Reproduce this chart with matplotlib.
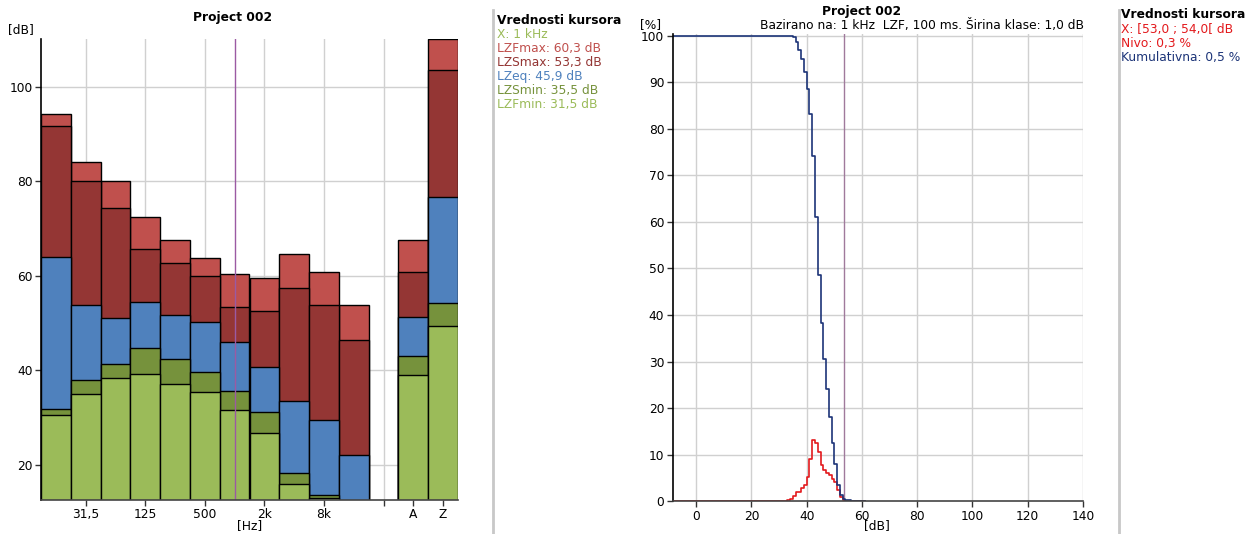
import numpy as np
import matplotlib.pyplot as plt
from matplotlib.lines import Line2D

W, H = 1245, 534

# octave bands + broadband A/Z (blank entry is the gap before A)
bands = ['16', '31,5', '63', '125', '250', '500', '1k', '2k', '4k', '8k', '16k', '', 'A', 'Z']
labelled = ['31,5', '125', '500', '2k', '8k', '', 'A', 'Z']
grid_bands = ['31,5', '125', '500', '2k', '8k', '']
cursor_band = '1k'

nan = np.nan
lzfmax = [94.2, 84.1, 80.1, 72.5, 67.6, 63.7, 60.3, 59.4, 64.6, 60.8, 53.7, nan, 67.5, 110.0]
lzsmax = [91.7, 80.0, 74.3, 65.6, 62.7, 59.9, 53.3, 52.5, 57.3, 53.7, 46.4, nan, 60.8, 103.6]
lzeq = [64.0, 53.8, 51.0, 54.4, 51.7, 50.1, 45.9, 40.7, 33.5, 29.5, 22.0, nan, 51.2, 76.7]
lzsmin = [31.8, 37.9, 41.2, 44.7, 42.4, 39.7, 35.5, 31.1, 18.2, 13.6, nan, nan, 42.9, 54.2]
lzfmin = [30.4, 35.0, 38.4, 39.2, 37.1, 35.4, 31.5, 26.7, 15.8, 13.0, nan, nan, 39.0, 49.3]

# statistics at 1 kHz, 1 dB classes
class_db = np.arange(30, 61)
nivo = [0.0, 0.05, 0.1, 0.3, 0.5, 1.1, 1.9, 2.0, 2.8, 3.5, 5.3, 9.0, 13.1, 12.6, 10.5, 7.7,
        6.7, 6.1, 5.6, 4.7, 4.1, 2.4, 1.0, 0.3, 0.15, 0.1, 0.05, 0.02, 0.0, 0.0, 0.0]
kumul = [100.0, 100.0, 100.0, 99.95, 99.85, 99.7, 98.7, 97.0, 94.9, 92.1, 88.6, 83.2, 74.1,
         61.1, 48.6, 38.2, 30.6, 24.1, 18.2, 12.6, 8.0, 3.6, 1.35, 0.5, 0.3, 0.2, 0.1, 0.05,
         0.02, 0.0, 0.0]
cursor_db = 53.5

c_fmax, c_smax, c_eq, c_smin, c_fmin = '#C0504D', '#943634', '#4F81BD', '#76923C', '#9BBB59'
c_grid = '#d0d0d0'
c_cursor = '#9b5aa3'
c_cursor2 = '#a07a9c'
c_red = '#e3191c'
c_blue = '#1c3478'
fs = 8.8

plt.rcParams['font.family'] = ['DejaVu Sans']


def fx(px):
    return px / W


def fy(py):
    return 1 - py / H


fig = plt.figure(figsize=(W / 100, H / 100), dpi=100)

# ---------------- left: spectrum
ax1 = fig.add_axes([fx(41), 34 / H, 417 / W, 461 / H])
x = np.arange(len(bands))
for vals, col in [(lzfmax, c_fmax), (lzsmax, c_smax), (lzeq, c_eq), (lzsmin, c_smin), (lzfmin, c_fmin)]:
    v = np.array(vals)
    ok = ~np.isnan(v)
    ax1.bar(x[ok], v[ok], width=1.0, color=col, edgecolor='black', linewidth=1.0, zorder=3)
ax1.set_xlim(-0.5, len(bands) - 0.5)
ax1.set_ylim(12.5, 110.1)
ax1.set_yticks([20, 40, 60, 80, 100])
ax1.set_xticks([bands.index(b) for b in labelled])
ax1.set_xticklabels(labelled)
for b in grid_bands:
    ax1.axvline(bands.index(b), color=c_grid, lw=1, zorder=1)
for v in [20, 40, 60, 80, 100]:
    ax1.axhline(v, color=c_grid, lw=1, zorder=1)
ax1.axvline(bands.index(cursor_band), color=c_cursor, lw=1, zorder=5)

# ---------------- right: statistics
ax2 = fig.add_axes([fx(672.7), 32.7 / H, 410.3 / W, 467 / H])
ax2.set_xlim(-8.5, 140)
ax2.set_ylim(0, 100.3)
ax2.set_xticks(np.arange(0, 141, 20))
ax2.set_yticks(np.arange(0, 101, 10))
for v in np.arange(0, 141, 20):
    ax2.axvline(v, color=c_grid, lw=1, zorder=1)
for v in np.arange(10, 101, 10):
    ax2.axhline(v, color=c_grid, lw=1, zorder=1)
ax2.axvline(cursor_db, color=c_cursor2, lw=1, zorder=2)
x0 = ax2.get_xlim()[0]
edges = np.r_[x0, class_db, class_db[-1] + 1]
ax2.step(edges, np.r_[kumul[0], kumul, kumul[-1]], where='post', color=c_blue, lw=1.2, zorder=4)
ax2.step(edges, np.r_[nivo[0], nivo, nivo[-1]], where='post', color=c_red, lw=1.2, zorder=3)

for ax in (ax1, ax2):
    ax.spines['top'].set_visible(False)
    ax.spines['right'].set_visible(False)
    ax.spines['left'].set_color('black')
    ax.spines['bottom'].set_color('#444444')
    ax.spines['left'].set_linewidth(1.2)
    ax.spines['bottom'].set_linewidth(1.2)
    ax.spines['left'].set_zorder(6)
    ax.spines['bottom'].set_zorder(6)
    ax.tick_params(direction='out', length=4, width=1, labelsize=fs, pad=2, color='#333333')

# ---------------- texts
fig.text(fx(8), fy(30), '[dB]', fontsize=fs, va='center', ha='left')
fig.text(fx(233), fy(18), 'Project 002', fontsize=fs, fontweight='bold', ha='center', va='center')
fig.text(fx(250), fy(526), '[Hz]', fontsize=fs, ha='center', va='center')

leg1 = [('Vrednosti kursora', 'black', 'bold'),
        ('X: 1 kHz', c_fmin, 'normal'),
        ('LZFmax: 60,3 dB', c_fmax, 'normal'),
        ('LZSmax: 53,3 dB', c_smax, 'normal'),
        ('LZeq: 45,9 dB', c_eq, 'normal'),
        ('LZSmin: 35,5 dB', c_smin, 'normal'),
        ('LZFmin: 31,5 dB', c_fmin, 'normal')]
for i, (t, c, w) in enumerate(leg1):
    fig.text(fx(497), fy(20 + i * 14.1), t, color=c, fontweight=w, fontsize=fs, va='center', ha='left')

fig.text(fx(640), fy(25), '[%]', fontsize=fs, va='center', ha='left')
fig.text(fx(862), fy(12), 'Project 002', fontsize=fs, fontweight='bold', ha='center', va='center')
fig.text(fx(1084), fy(26), 'Bazirano na: 1 kHz  LZF, 100 ms. Širina klase: 1,0 dB', fontsize=fs,
         ha='right', va='center')
fig.text(fx(877), fy(526), '[dB]', fontsize=fs, ha='center', va='center')

leg2 = [('Vrednosti kursora', 'black', 'bold'),
        ('X: [53,0 ; 54,0[ dB', c_red, 'normal'),
        ('Nivo: 0,3 %', c_red, 'normal'),
        ('Kumulativna: 0,5 %', c_blue, 'normal')]
for i, (t, c, w) in enumerate(leg2):
    fig.text(fx(1121), fy(15 + i * 14.1), t, color=c, fontweight=w, fontsize=fs, va='center', ha='left')

# panel separators
for sx in (493, 1118.5):
    fig.add_artist(Line2D([fx(sx), fx(sx)], [0, fy(10)], color='#c8c8c8', lw=2))

fig.savefig('out.png', dpi=100)
